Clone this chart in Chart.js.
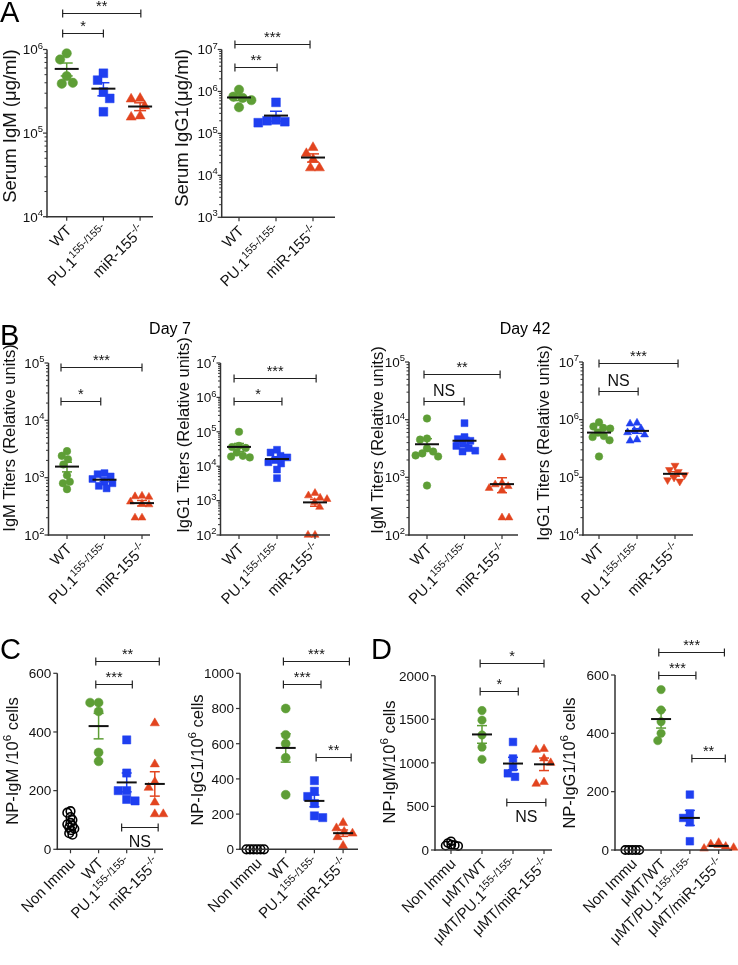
<!DOCTYPE html>
<html>
<head>
<meta charset="utf-8">
<script src="https://cdn.jsdelivr.net/npm/chart.js@4.4.1/dist/chart.umd.min.js"></script>
<style>
  html, body { margin: 0; padding: 0; background: #fff; }
  #wrap { position: relative; width: 738px; height: 965px; overflow: hidden; }
  #wrap canvas { position: absolute; left: 0; top: 0; }
</style>
</head>
<body>
<div id="wrap"></div>
<script>
// ---- categories ("^" switches superscript on / off) ----
const groupsAB = ["WT", "PU.1^155-/155-", "miR-155^-/-"];
const groupsC = ["Non Immu", "WT", "PU.1^155-/155-", "miR-155^-/-"];
const groupsD = ["Non Immu", "μMT/WT", "μMT/PU.1^155-/155-", "μMT/miR-155^-/-"];

// ---- A: serum Ig (μg/ml) ----
const serumIgM_WT = [9.0e5, 7.6e5, 4.8e5, 4.0e5, 3.9e5];
const serumIgM_PU = [5.2e5, 4.3e5, 3.1e5, 2.6e5, 1.8e5];
const serumIgM_miR = [2.6e5, 2.55e5, 2.1e5, 1.6e5, 1.55e5];
const serumIgG1_WT = [1.1e6, 7.5e5, 7.0e5, 6.2e5, 4.2e5];
const serumIgG1_PU = [5.5e5, 2.1e5, 2.0e5, 1.9e5, 1.8e5];
const serumIgG1_miR = [4.6e4, 3.3e4, 2.4e4, 1.5e4, 1.5e4];

// ---- B: titers, day 7 and day 42 ----
const d7IgM_WT = [2900, 2400, 2100, 1700, 1100, 850, 800, 630];
const d7IgM_PU = [1200, 1150, 1050, 950, 850, 800, 720, 650];
const d7IgM_miR = [480, 470, 460, 380, 350, 340, 200, 200];
const d7IgG1_WT = [1.0e5, 3.9e4, 3.6e4, 3.4e4, 2.5e4, 2.0e4, 1.9e4, 1.8e4];
const d7IgG1_PU = [3.0e4, 2.5e4, 2.0e4, 1.8e4, 1.5e4, 1.3e4, 1.2e4, 8.0e3, 4.5e3];
const d7IgG1_miR = [1650, 1400, 1200, 1100, 900, 650, 100, 100];
const d42IgM_WT = [1.05e4, 4700, 4500, 3200, 2800, 2600, 2400, 2300, 720];
const d42IgM_PU = [8700, 5000, 4600, 4300, 3800, 3500, 3200, 2900, 2800];
const d42IgM_miR = [2200, 800, 750, 700, 650, 600, 200, 200];
const d42IgG1_WT = [9.0e5, 7.6e5, 7.2e5, 7.0e5, 6.0e5, 5.2e5, 5.0e5, 4.4e5, 2.3e5];
const d42IgG1_PU = [8.8e5, 8.5e5, 7.0e5, 6.5e5, 6.0e5, 5.5e5, 4.5e5, 4.3e5];
const d42IgG1_miR = [1.6e5, 1.35e5, 1.25e5, 1.1e5, 1.0e5, 9.0e4, 8.5e4];

// ---- C: NP-specific cells per 10^6 ----
const cIgM_Non = [130, 125, 110, 100, 90, 85, 80, 75, 70, 65, 55, 50];
const cIgM_WT = [500, 500, 470, 330, 300];
const cIgM_PU = [373, 260, 200, 200, 170, 165];
const cIgM_miR = [430, 290, 230, 210, 160, 120, 120];
const cIgG1_Non = [0, 0, 0, 0, 0, 0];
const cIgG1_WT = [800, 650, 600, 520, 310];
const cIgG1_PU = [390, 330, 300, 260, 190, 180];
const cIgG1_miR = [150, 120, 100, 90, 70, 20];

// ---- D: μMT chimeras ----
const dIgM_Non = [100, 80, 60, 55, 50, 45];
const dIgM_WT = [1600, 1490, 1320, 1180, 1040];
const dIgM_PU = [1240, 1050, 950, 880, 840];
const dIgM_miR = [1160, 1150, 1050, 1000, 780, 760];
const dIgG1_Non = [0, 0, 0, 0, 0];
const dIgG1_WT = [550, 480, 440, 400, 375];
const dIgG1_PU = [190, 125, 110, 95, 30];
const dIgG1_miR = [25, 20, 12, 8, 5];

// ---- tick values ----
const ticksA1 = [1e4, 1e5, 1e6];
const ticksA2 = [1e3, 1e4, 1e5, 1e6, 1e7];
const ticksB1 = [1e2, 1e3, 1e4, 1e5];
const ticksB2 = [1e2, 1e3, 1e4, 1e5, 1e6, 1e7];
const ticksB4 = [1e4, 1e5, 1e6, 1e7];
const ticksC1 = [0, 200, 400, 600];
const ticksC2 = [0, 200, 400, 600, 800, 1000];
const ticksD1 = [0, 500, 1000, 1500, 2000];
const ticksD2 = [0, 200, 400, 600];

// ---- significance labels ----
const sigA1 = ["**", "*"];
const sigA2 = ["***", "**"];
const sigB1 = ["***", "*"];
const sigB2 = ["***", "*"];
const sigB3 = ["**", "NS"];
const sigB4 = ["***", "NS"];
const sigC1 = ["**", "***", "NS"];
const sigC2 = ["***", "***", "**"];
const sigD1 = ["*", "*", "NS"];
const sigD2 = ["***", "***", "**"];

const FONT = "'Liberation Sans', Arial, Helvetica, sans-serif";
const GREEN = "#5e9e36", BLUE = "#1f3ff0", RED = "#e2441f";
const AXIS = "#333";

const STYLE3 = [
  { shape: "circle", color: GREEN },
  { shape: "rect", color: BLUE },
  { shape: "triangle", color: RED }
];
const STYLE3B4 = [
  { shape: "circle", color: GREEN },
  { shape: "triangle", color: BLUE },
  { shape: "triangle", color: RED, rot: 180 }
];
const STYLE4 = [
  { shape: "circle", color: "#000", open: true, noMean: true },
  { shape: "circle", color: GREEN },
  { shape: "rect", color: BLUE },
  { shape: "triangle", color: RED }
];

// box = [left, top, right, bottom] of the plot area; cat0/step = pixel of first category and spacing
const specs = [
  { cats: groupsAB, series: [serumIgM_WT, serumIgM_PU, serumIgM_miR], style: STYLE3, log: true,
    yMin: 1e4, yMax: 1e6, ticks: ticksA1, title: "Serum IgM (μg/ml)", sig: sigA1,
    brk: [[-0.11, 2.02, 2.7e6], [-0.11, 1.0, 1.57e6]],
    box: [47, 49.5, 153, 216.7], cat0: 66.7, step: 36.7, titleXY: [9, 126], titleSize: 18.5,
    r: [4.7, 6.2, 5.8], gap: 9, meanW: 12, capW: 6 },
  { cats: groupsAB, series: [serumIgG1_WT, serumIgG1_PU, serumIgG1_miR], style: STYLE3, log: true,
    yMin: 1e3, yMax: 1e7, ticks: ticksA2, title: "Serum IgG1(μg/ml)", sig: sigA2,
    brk: [[-0.11, 1.92, 1.39e7], [-0.11, 1.03, 3.85e6]],
    box: [221.7, 49.5, 335, 217.3], cat0: 239, step: 37, titleXY: [181, 128], titleSize: 18.5,
    r: [4.7, 6.2, 5.8], gap: 9, meanW: 12, capW: 6 },
  { cats: groupsAB, series: [d7IgM_WT, d7IgM_PU, d7IgM_miR], style: STYLE3, log: true,
    yMin: 1e2, yMax: 1e5, ticks: ticksB1, title: "IgM Titers (Relative units)", sig: sigB1,
    brk: [[-0.16, 2.0, 8.4e4], [-0.16, 0.9, 2.17e4]],
    box: [48.5, 363, 150, 535], cat0: 67, step: 37.5, titleXY: [9, 438], titleSize: 16.5,
    r: [3.8, 4.9, 4.6], gap: 7, meanW: 12, capW: 5 },
  { cats: groupsAB, series: [d7IgG1_WT, d7IgG1_PU, d7IgG1_miR], style: STYLE3, log: true,
    yMin: 1e2, yMax: 1e7, ticks: ticksB2, title: "IgG1 Titers (Relative units)", sig: sigB2,
    brk: [[-0.13, 2.03, 3.74e6], [-0.13, 1.13, 7.85e5]],
    box: [220.5, 363, 330, 535], cat0: 239, step: 38, titleXY: [183, 435], titleSize: 16.5,
    r: [3.8, 4.9, 4.6], gap: 7, meanW: 12, capW: 5 },
  { cats: groupsAB, series: [d42IgM_WT, d42IgM_PU, d42IgM_miR], style: STYLE3, log: true,
    yMin: 1e2, yMax: 1e5, ticks: ticksB1, title: "IgM Titers (Relative units)", sig: sigB3,
    brk: [[-0.08, 1.95, 6.2e4], [-0.08, 0.99, 2.11e4]],
    box: [409, 362, 518, 535], cat0: 427, step: 37.5, titleXY: [377, 440], titleSize: 16.5,
    r: [3.8, 4.9, 4.6], gap: 7, meanW: 12, capW: 5 },
  { cats: groupsAB, series: [d42IgG1_WT, d42IgG1_PU, d42IgG1_miR], style: STYLE3B4, log: true,
    yMin: 1e4, yMax: 1e7, ticks: ticksB4, title: "IgG1 Titers (Relative units)", sig: sigB4,
    brk: [[0, 2.08, 9.5e6], [0, 1.03, 3.14e6]],
    box: [583, 362, 693, 535], cat0: 599, step: 38, titleXY: [543, 443], titleSize: 16.5,
    r: [3.8, 4.6, 4.6], gap: 7, meanW: 12, capW: 5 },
  { cats: groupsC, series: [cIgM_Non, cIgM_WT, cIgM_PU, cIgM_miR], style: STYLE4, log: false,
    yMin: 0, yMax: 600, ticks: ticksC1, title: "NP-IgM /10^6^ cells", sig: sigC1,
    brk: [[0.9, 3.16, 642], [0.9, 2.2, 564], [1.82, 3.12, 76, true]],
    box: [57.3, 673.3, 163, 849.3], cat0: 70.5, step: 28.1, titleXY: [12, 761], titleSize: 16.5,
    r: [4.3, 4.5, 5.8, 5.3], gap: 8.5, meanW: 10, capW: 5 },
  { cats: groupsC, series: [cIgG1_Non, cIgG1_WT, cIgG1_PU, cIgG1_miR], style: STYLE4, log: false,
    yMin: 0, yMax: 1000, ticks: ticksC2, title: "NP-IgG1/10^6^ cells", sig: sigC2,
    brk: [[0.92, 3.22, 1069], [0.92, 2.23, 939], [2.06, 3.28, 524]],
    box: [240, 673.3, 358, 849.3], cat0: 257, step: 28.7, titleXY: [197, 760], titleSize: 16.5,
    r: [4.3, 4.5, 5.8, 5.3], gap: 8.5, meanW: 10, capW: 5 },
  { cats: groupsD, series: [dIgM_Non, dIgM_WT, dIgM_PU, dIgM_miR], style: STYLE4, log: false,
    yMin: 0, yMax: 2000, ticks: ticksD1, title: "NP-IgM/10^6^ cells", sig: sigD1,
    brk: [[0.94, 3.0, 2146], [0.94, 2.17, 1824], [1.8, 3.06, 551, true]],
    box: [435, 675.7, 552, 850], cat0: 451, step: 31, titleXY: [389, 762], titleSize: 16.5,
    r: [4.1, 4.2, 5.4, 5.0], gap: 8, meanW: 10, capW: 5 },
  { cats: groupsD, series: [dIgG1_Non, dIgG1_WT, dIgG1_PU, dIgG1_miR], style: STYLE4, log: false,
    yMin: 0, yMax: 600, ticks: ticksD2, title: "NP-IgG1/10^6^ cells", sig: sigD2,
    brk: [[0.92, 3.2, 679], [0.92, 2.21, 600], [2.07, 3.23, 315]],
    box: [615, 675, 737, 850], cat0: 633, step: 30, titleXY: [569, 763], titleSize: 16.5,
    r: [4.1, 4.2, 5.4, 5.0], gap: 8, meanW: 10, capW: 5 }
];

// ---- rich text (superscripts) ----
function drawRich(ctx, s, x, y, fs, align) {
  const parts = s.split("^").map((t, i) => ({ t, sup: i % 2 === 1 }));
  let w = 0;
  for (const p of parts) { ctx.font = (p.sup ? fs * 0.7 : fs) + "px " + FONT; w += ctx.measureText(p.t).width; }
  let cx = align === "right" ? x - w : align === "center" ? x - w / 2 : x;
  ctx.textAlign = "left";
  ctx.textBaseline = "alphabetic";
  for (const p of parts) {
    ctx.font = (p.sup ? fs * 0.7 : fs) + "px " + FONT;
    ctx.fillText(p.t, cx, p.sup ? y - fs * 0.42 : y);
    cx += ctx.measureText(p.t).width;
  }
}

function stats(vals) {
  const n = vals.length;
  const mean = vals.reduce((a, b) => a + b, 0) / n;
  const sd = Math.sqrt(vals.reduce((a, b) => a + (b - mean) * (b - mean), 0) / (n - 1));
  return { mean, sem: sd / Math.sqrt(n) };
}

function line(ctx, x1, y1, x2, y2) { ctx.beginPath(); ctx.moveTo(x1, y1); ctx.lineTo(x2, y2); ctx.stroke(); }

// axes, labels, means and brackets
const decor = {
  id: "decor",
  afterDatasetsDraw(chart) {
    const spec = chart.config.options.spec;
    const ctx = chart.ctx, xs = chart.scales.x, ys = chart.scales.y, a = chart.chartArea;
    ctx.save();
    // mean +/- SEM
    spec.series.forEach((vals, gi) => {
      const st = spec.style[gi];
      if (st.noMean || !vals.length) return;
      const s = stats(vals);
      const cx = xs.getPixelForValue(gi);
      const ym = ys.getPixelForValue(s.mean);
      const yh = ys.getPixelForValue(s.mean + s.sem);
      const yl = ys.getPixelForValue(Math.max(s.mean - s.sem, spec.log ? 1 : 0));
      ctx.strokeStyle = st.color; ctx.lineWidth = 1.5;
      line(ctx, cx, yh, cx, yl);
      line(ctx, cx - spec.capW, yh, cx + spec.capW, yh);
      line(ctx, cx - spec.capW, yl, cx + spec.capW, yl);
      ctx.strokeStyle = "#111"; ctx.lineWidth = 2;
      line(ctx, cx - spec.meanW, ym, cx + spec.meanW, ym);
    });
    // axes
    ctx.strokeStyle = AXIS; ctx.lineWidth = 1.5;
    line(ctx, a.left, a.top, a.left, a.bottom + 0.75);
    line(ctx, a.left - 0.75, a.bottom, a.right, a.bottom);
    ctx.lineWidth = 1.2;
    ctx.fillStyle = "#111";
    spec.ticks.forEach(v => {
      const y = ys.getPixelForValue(v);
      line(ctx, a.left - 4, y, a.left, y);
      if (spec.log) {
        drawRich(ctx, "10^" + Math.round(Math.log10(v)), a.left - 4, y + 4.8, 13.5, "right");
      } else {
        ctx.font = "13.5px " + FONT; ctx.textAlign = "right"; ctx.textBaseline = "alphabetic";
        ctx.fillText(String(v), a.left - 6, y + 4.8);
      }
    });
    if (spec.log) {
      ctx.lineWidth = 1;
      for (let d = 0; d < spec.ticks.length - 1; d++) {
        for (let m = 2; m <= 9; m++) {
          const y = ys.getPixelForValue(spec.ticks[d] * m);
          line(ctx, a.left - 2.5, y, a.left, y);
        }
      }
    }
    // x ticks and rotated labels
    ctx.lineWidth = 1.2;
    spec.cats.forEach((c, i) => {
      const x = xs.getPixelForValue(i);
      line(ctx, x, a.bottom, x, a.bottom + 4);
      ctx.save();
      ctx.translate(x + 2, a.bottom + 11);
      ctx.rotate(-Math.PI / 4);
      drawRich(ctx, c, 0, 5.2, 15, "right");
      ctx.restore();
    });
    // y title
    ctx.save();
    ctx.translate(spec.titleXY[0], spec.titleXY[1]);
    ctx.rotate(-Math.PI / 2);
    drawRich(ctx, spec.title, 0, spec.titleSize * 0.36, spec.titleSize, "center");
    ctx.restore();
    // significance brackets
    ctx.strokeStyle = "#222"; ctx.lineWidth = 1.2;
    spec.brk.forEach((b, k) => {
      const x1 = xs.getPixelForValue(b[0]), x2 = xs.getPixelForValue(b[1]);
      const y = Math.round(ys.getPixelForValue(b[2])) + 0.5;
      line(ctx, x1, y, x2, y);
      line(ctx, x1, y - 4, x1, y + 4);
      line(ctx, x2, y - 4, x2, y + 4);
      const lab = spec.sig[k];
      const fs = lab === "NS" ? 16 : 14.5;
      ctx.font = fs + "px " + FONT; ctx.textAlign = "center"; ctx.textBaseline = "alphabetic";
      ctx.fillText(lab, (x1 + x2) / 2, b[3] ? y + 19 : (lab === "NS" ? y - 6 : y - 3));
    });
    ctx.restore();
  }
};

// panel letters and day headers
const page = {
  id: "page",
  afterDraw(chart) {
    const ctx = chart.ctx;
    ctx.save();
    ctx.fillStyle = "#000"; ctx.textBaseline = "alphabetic"; ctx.textAlign = "left";
    ctx.font = "29px " + FONT;
    ctx.fillText("A", 0, 21.5);
    ctx.fillText("B", 0, 345);
    ctx.fillText("C", 0, 659);
    ctx.fillText("D", 371, 659);
    ctx.font = "16px " + FONT; ctx.textAlign = "center";
    ctx.fillText("Day 7", 170, 334);
    ctx.fillText("Day 42", 525, 334);
    ctx.restore();
  }
};

// spread points of one group horizontally so they don't overlap (beeswarm)
function swarm(pys, gap) {
  const order = pys.map((py, k) => ({ k, py })).sort((p, q) => p.py - q.py);
  const placed = [];
  const out = new Array(pys.length).fill(0);
  order.forEach(p => {
    const cand = [0];
    placed.forEach(q => {
      const dy = Math.abs(p.py - q.py);
      if (dy < gap) { const h = Math.sqrt(gap * gap - dy * dy); cand.push(q.dx + h, q.dx - h); }
    });
    const ok = x => placed.every(q => (x - q.dx) ** 2 + (p.py - q.py) ** 2 >= gap * gap - 0.01);
    const left = placed.filter(q => q.dx < 0).length, right = placed.filter(q => q.dx > 0).length;
    cand.sort((u, v) => Math.abs(u) - Math.abs(v) || (left > right ? v - u : u - v));
    const dx = cand.find(ok);
    placed.push({ py: p.py, dx });
    out[p.k] = dx;
  });
  return out;
}

const wrap = document.getElementById("wrap");
specs.forEach((spec, ci) => {
  const cv = document.createElement("canvas");
  cv.width = 738; cv.height = 965;
  cv.style.width = "738px"; cv.style.height = "965px";
  wrap.appendChild(cv);
  const [L, T, R, B] = spec.box;
  const datasets = spec.series.map((vals, gi) => {
    const st = spec.style[gi];
    return {
      data: vals.map(v => ({ x: gi, y: v })),
      pointStyle: st.shape,
      pointRadius: spec.r[gi],
      pointRotation: st.rot || 0,
      backgroundColor: st.open ? "rgba(255,255,255,0)" : st.color,
      borderColor: st.color,
      borderWidth: st.open ? 1.6 : 0.5,
      clip: false
    };
  });
  const chart = new Chart(cv, {
    type: "scatter",
    data: { datasets },
    options: {
      spec,
      responsive: false,
      animation: false,
      devicePixelRatio: 1,
      events: [],
      layout: { padding: { left: L, top: T, right: 738 - R, bottom: 965 - B } },
      plugins: { legend: { display: false }, tooltip: { enabled: false } },
      scales: {
        x: { type: "linear", display: false, min: (L - spec.cat0) / spec.step, max: (R - spec.cat0) / spec.step },
        y: { type: spec.log ? "logarithmic" : "linear", display: false, min: spec.yMin, max: spec.yMax }
      }
    },
    plugins: ci === 0 ? [decor, page] : [decor]
  });
  const xs = chart.scales.x, ys = chart.scales.y;
  const unit = xs.getPixelForValue(1) - xs.getPixelForValue(0);
  chart.data.datasets.forEach((ds, gi) => {
    const st = spec.style[gi];
    const gap = st.open ? 3.5 : spec.gap;
    const offs = swarm(spec.series[gi].map(v => ys.getPixelForValue(v)), gap);
    ds.data.forEach((p, k) => { p.x = gi + offs[k] / unit; });
  });
  chart.update("none");
});
</script>
</body>
</html>
